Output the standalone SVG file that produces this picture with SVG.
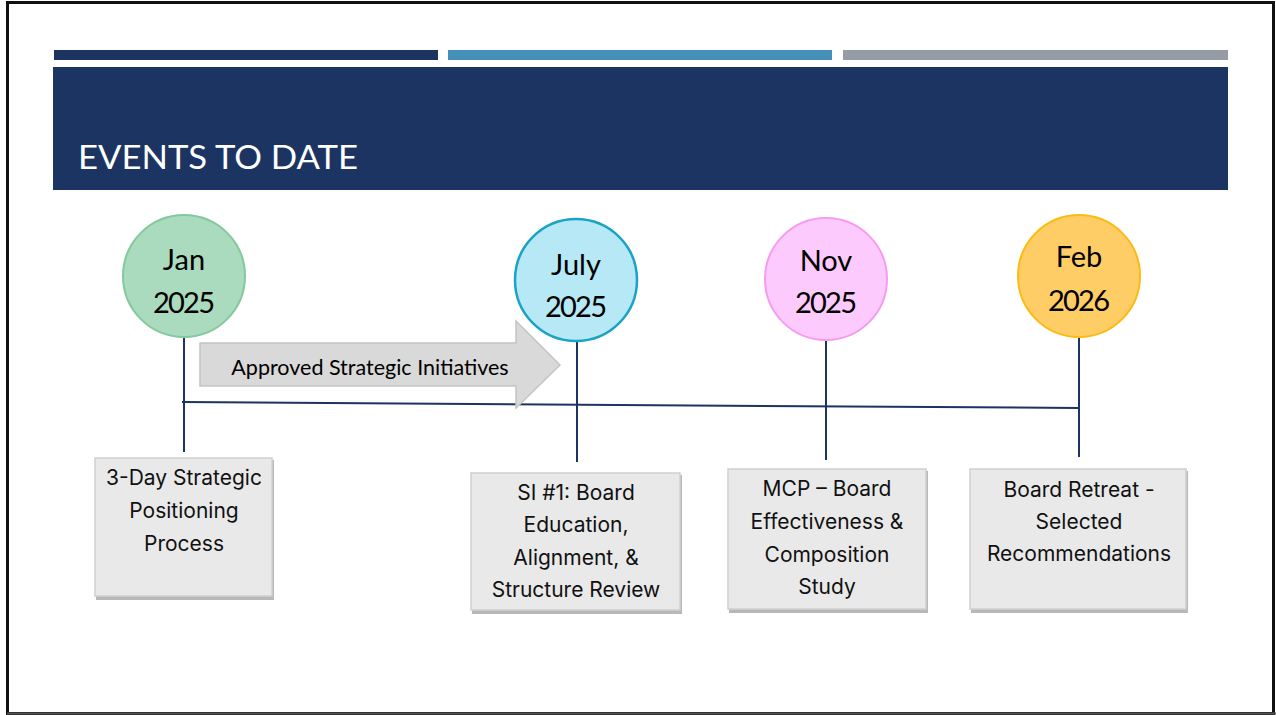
<svg xmlns="http://www.w3.org/2000/svg" width="1276" height="715" viewBox="0 0 1276 715">
  <defs>
    <style>
      .circle-label { font-family: "Lato", "Open Sans", "Liberation Sans", sans-serif; font-size: 29px; fill: #000; text-anchor: middle; }
      .box { fill: #e9e9e9; stroke: #cfcfcf; stroke-width: 1.5; }
      .box-shadow { fill: #b8b8b8; }
      .box-text { font-family: "Inter", "Liberation Sans", sans-serif; font-size: 21px; fill: #111; text-anchor: middle; }
      .stem { stroke: #1c3461; stroke-width: 2; fill: none; }
    </style>
  </defs>

  <!-- slide background and frame -->
  <rect x="0" y="0" width="1276" height="715" fill="#ffffff"/>
  <rect x="7.5" y="2.5" width="1266" height="711" fill="none" stroke="#111" stroke-width="3"/>
  <line x1="7" y1="713.5" x2="1276" y2="713.5" stroke="#555" stroke-width="2"/>

  <!-- header accent bars -->
  <rect x="54" y="50" width="384" height="10" fill="#1c3461"/>
  <rect x="448" y="50" width="384" height="10" fill="#4590b8"/>
  <rect x="843" y="50" width="385" height="10" fill="#959ca6"/>

  <!-- title band -->
  <g id="title">
    <rect x="53" y="67" width="1175" height="123" fill="#1c3461"/>
    <text x="78" y="169" font-family="Lato, 'Open Sans', sans-serif" font-size="32" fill="#ffffff" textLength="280" lengthAdjust="spacingAndGlyphs">EVENTS TO DATE</text>
  </g>

  <!-- timeline connectors -->
  <g id="connectors">
    <line class="stem" x1="184" y1="338" x2="184" y2="452"/>
    <line class="stem" x1="577" y1="341" x2="577" y2="462"/>
    <line class="stem" x1="826" y1="340" x2="826" y2="460"/>
    <line class="stem" x1="1079" y1="337" x2="1079" y2="457"/>
    <line class="stem" x1="182" y1="402" x2="1079" y2="408"/>
  </g>

  <!-- block arrow -->
  <g id="arrow-initiatives">
    <path d="M200,343 L516,343 L516,321 L560,365 L516,408 L516,386 L200,386 Z" fill="#d9d9d9" stroke="#c4c4c4" stroke-width="1.5"/>
    <text x="370" y="375" font-family="Lato, 'Open Sans', sans-serif" font-size="21.5" fill="#000" text-anchor="middle">Approved Strategic Initiatives</text>
  </g>

  <!-- milestone circles -->
  <g id="node-jan-2025">
    <circle cx="184" cy="276" r="61" fill="#aadbbe" stroke="#82c99b" stroke-width="2"/>
    <text class="circle-label" x="184" y="270">Jan</text>
    <text class="circle-label" x="184" y="313" textLength="62">2025</text>
  </g>
  <g id="node-july-2025">
    <circle cx="576" cy="280" r="61" fill="#b6e8f6" stroke="#1aa3c7" stroke-width="2.5"/>
    <text class="circle-label" x="576" y="275">July</text>
    <text class="circle-label" x="576" y="317" textLength="62">2025</text>
  </g>
  <g id="node-nov-2025">
    <circle cx="826" cy="279" r="61" fill="#fdcafd" stroke="#f59cf0" stroke-width="2"/>
    <text class="circle-label" x="826" y="271">Nov</text>
    <text class="circle-label" x="826" y="313" textLength="62">2025</text>
  </g>
  <g id="node-feb-2026">
    <circle cx="1079" cy="276" r="61" fill="#ffcd66" stroke="#fbbb12" stroke-width="2"/>
    <text class="circle-label" x="1079" y="267">Feb</text>
    <text class="circle-label" x="1079" y="311" textLength="62">2026</text>
  </g>

  <!-- event boxes -->
  <g id="box-strategic-positioning">
    <rect class="box-shadow" x="96" y="460" width="178" height="140"/>
    <rect class="box" x="95" y="458" width="177" height="138"/>
    <text class="box-text" x="184" y="485">3-Day Strategic</text>
    <text class="box-text" x="184" y="518">Positioning</text>
    <text class="box-text" x="184" y="551">Process</text>
  </g>
  <g id="box-si1">
    <rect class="box-shadow" x="472" y="475" width="210" height="139"/>
    <rect class="box" x="471" y="473" width="209" height="137"/>
    <text class="box-text" x="576" y="500">SI #1: Board</text>
    <text class="box-text" x="576" y="532">Education,</text>
    <text class="box-text" x="576" y="565">Alignment, &amp;</text>
    <text class="box-text" x="576" y="597">Structure Review</text>
  </g>
  <g id="box-mcp">
    <rect class="box-shadow" x="729" y="471" width="199" height="142"/>
    <rect class="box" x="728" y="469" width="198" height="140"/>
    <text class="box-text" x="827" y="496">MCP – Board</text>
    <text class="box-text" x="827" y="529">Effectiveness &amp;</text>
    <text class="box-text" x="827" y="562">Composition</text>
    <text class="box-text" x="827" y="594">Study</text>
  </g>
  <g id="box-board-retreat">
    <rect class="box-shadow" x="971" y="471" width="217" height="142"/>
    <rect class="box" x="970" y="469" width="216" height="140"/>
    <text class="box-text" x="1079" y="497">Board Retreat -</text>
    <text class="box-text" x="1079" y="529">Selected</text>
    <text class="box-text" x="1079" y="561">Recommendations</text>
  </g>
</svg>
